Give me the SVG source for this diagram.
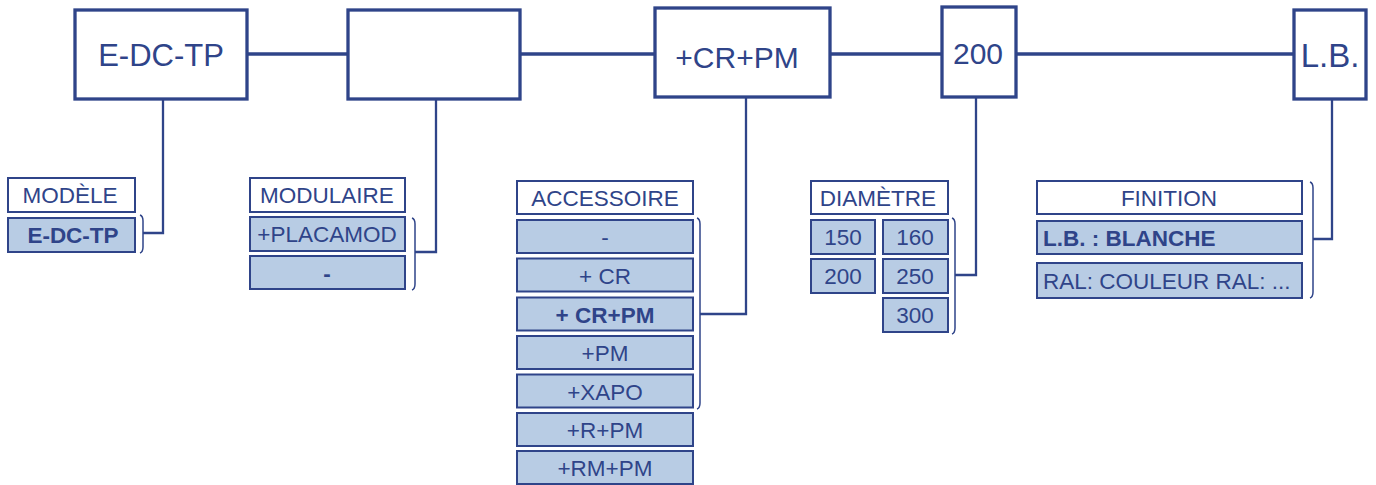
<svg xmlns="http://www.w3.org/2000/svg" width="1376" height="485" viewBox="0 0 1376 485">
<style>
  .main{fill:#ffffff;stroke:#2f4489;stroke-width:3.3}
  .hdr{fill:#ffffff;stroke:#2f4489;stroke-width:2}
  .opt{fill:#b8cce4;stroke:#2f4489;stroke-width:2}
  .line{fill:none;stroke:#2f4489;stroke-width:2.3}
  .trunk{fill:none;stroke:#2f4489;stroke-width:3.5}
  .br{fill:none;stroke:#2f4489;stroke-width:1.5}
  text{font-family:"Liberation Sans",Arial,sans-serif;fill:#2f4489;text-anchor:middle}
  .big{font-size:30px}
  .t{font-size:22.5px}
  .b{font-weight:bold}
  .l{text-anchor:start}
</style>
<g id="connectors">
  <path class="trunk" d="M247,54 H1294"/>
  <path class="line" d="M163,99 V233 H143"/>
  <path class="line" d="M436,99 V252 H415"/>
  <path class="line" d="M746,97 V314 H700"/>
  <path class="line" d="M976,97 V275 H955"/>
  <path class="line" d="M1332,99 V239 H1313"/>
  <path class="br" d="M140,215 Q143,216 143,221 V247 Q143,252 140,253"/>
  <path class="br" d="M412,218 Q415,219 415,224 V284 Q415,289 412,290"/>
  <path class="br" d="M697,218 Q700,219 700,224 V403 Q700,408 697,409"/>
  <path class="br" d="M952,218 Q955,219 955,224 V328 Q955,333 952,334"/>
  <path class="br" d="M1310,182 Q1313,183 1313,188 V292 Q1313,297 1310,298"/>
</g>
<g id="node-modele-main">
  <rect class="main" x="75" y="10" width="172" height="89"/>
  <text class="big" x="161" y="66" style="font-size:31px">E-DC-TP</text>
</g>
<g id="node-modulaire-main">
  <rect class="main" x="348" y="10" width="172" height="89"/>
</g>
<g id="node-accessoire-main">
  <rect class="main" x="655" y="8" width="175" height="89"/>
  <text class="big" x="737" y="68">+CR+PM</text>
</g>
<g id="node-diametre-main">
  <rect class="main" x="942" y="7" width="74" height="90"/>
  <text class="big" x="978" y="64">200</text>
</g>
<g id="node-finition-main">
  <rect class="main" x="1294" y="10" width="72" height="89"/>
  <text class="big" x="1330" y="67" style="font-size:33px">L.B.</text>
</g>
<g id="node-modele">
  <rect class="hdr" x="8" y="178" width="127" height="34"/>
  <text class="t" x="70" y="203">MODÈLE</text>
  <rect class="opt" x="8" y="218" width="127" height="34"/>
  <text class="t b" x="73" y="243">E-DC-TP</text>
</g>
<g id="node-modulaire">
  <rect class="hdr" x="250" y="178" width="155" height="34"/>
  <text class="t" x="327" y="203">MODULAIRE</text>
  <rect class="opt" x="250" y="217" width="155" height="34"/>
  <text class="t" x="327" y="242">+PLACAMOD</text>
  <rect class="opt" x="250" y="256" width="155" height="33"/>
  <text class="t b" x="327" y="281">-</text>
</g>
<g id="node-accessoire">
  <rect class="hdr" x="517" y="181" width="176" height="33"/>
  <text class="t" x="605" y="206">ACCESSOIRE</text>
  <rect class="opt" x="517" y="220" width="176" height="33"/>
  <text class="t" x="605" y="245">-</text>
  <rect class="opt" x="517" y="258.5" width="176" height="33"/>
  <text class="t" x="605" y="283.5">+ CR</text>
  <rect class="opt" x="517" y="297.5" width="176" height="33"/>
  <text class="t b" x="605" y="322.5">+ CR+PM</text>
  <rect class="opt" x="517" y="336" width="176" height="33"/>
  <text class="t" x="605" y="361">+PM</text>
  <rect class="opt" x="517" y="374.5" width="176" height="33"/>
  <text class="t" x="605" y="399.5">+XAPO</text>
  <rect class="opt" x="517" y="413" width="176" height="33"/>
  <text class="t" x="605" y="438">+R+PM</text>
  <rect class="opt" x="517" y="451" width="176" height="33"/>
  <text class="t" x="605" y="476">+RM+PM</text>
</g>
<g id="node-diametre">
  <rect class="hdr" x="811" y="181" width="137" height="33"/>
  <text class="t" x="878" y="206">DIAMÈTRE</text>
  <rect class="opt" x="811" y="220" width="64" height="34"/>
  <text class="t" x="843" y="245">150</text>
  <rect class="opt" x="883" y="220" width="65" height="34"/>
  <text class="t" x="915" y="245">160</text>
  <rect class="opt" x="811" y="259" width="64" height="34"/>
  <text class="t" x="843" y="284">200</text>
  <rect class="opt" x="883" y="259" width="65" height="34"/>
  <text class="t" x="915" y="284">250</text>
  <rect class="opt" x="883" y="298" width="65" height="34"/>
  <text class="t" x="915" y="323">300</text>
</g>
<g id="node-finition">
  <rect class="hdr" x="1037" y="181" width="265" height="33"/>
  <text class="t" x="1169" y="206">FINITION</text>
  <rect class="opt" x="1037" y="221" width="265" height="33"/>
  <text class="t b l" x="1043" y="246">L.B. : BLANCHE</text>
  <rect class="opt" x="1037" y="263" width="265" height="35"/>
  <text class="t l" x="1043" y="289">RAL: COULEUR RAL: ...</text>
</g>
</svg>
